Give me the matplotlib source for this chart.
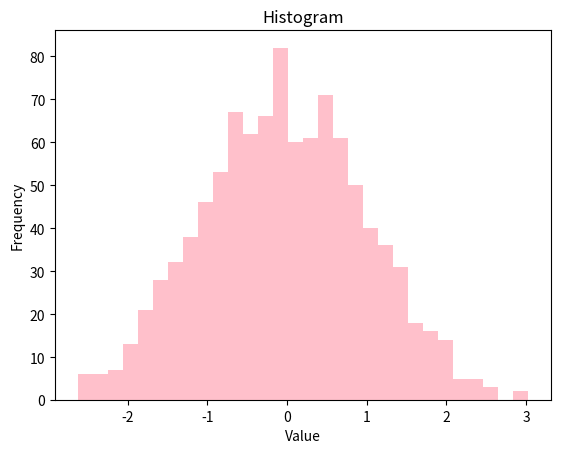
import numpy as np
import matplotlib
matplotlib.use('Agg')
import matplotlib.pyplot as plt

# histogram counts (30 bins)
counts = [6, 6, 7, 13, 21, 28, 32, 38, 46, 53,
          67, 62, 66, 82, 60, 61, 71, 61, 50, 40,
          36, 31, 18, 16, 14, 5, 5, 3, 0, 2]
x_min = -2.63
x_max = 3.03

plt.rcParams['font.family'] = ['Noto Sans CJK KR', 'DejaVu Sans']
plt.rcParams['axes.unicode_minus'] = False

edges = np.linspace(x_min, x_max, len(counts) + 1)
centers = (edges[:-1] + edges[1:]) / 2

fig = plt.figure(figsize=(5.61, 4.52), dpi=100)
ax = fig.add_axes([55 / 561, 1 - 401 / 452, 496 / 561, 370 / 452])
ax.hist(centers, bins=edges, weights=counts, color='pink')
ax.set_title('Histogram')
ax.set_xlabel('Value')
ax.set_ylabel('Frequency')

fig.savefig('out.png', dpi=100)
